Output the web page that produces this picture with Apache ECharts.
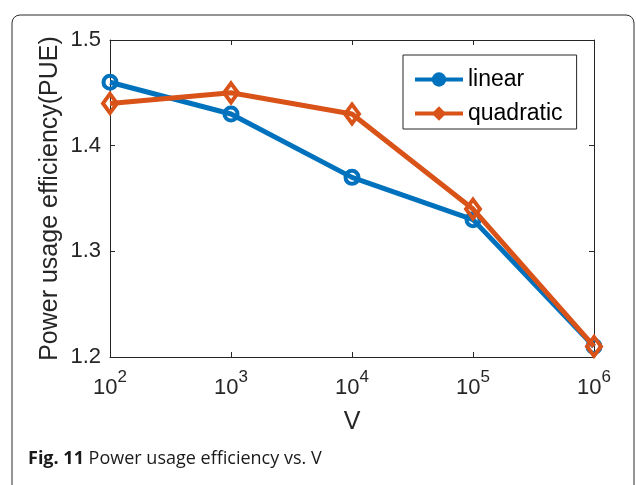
<!DOCTYPE html>
<html>
<head>
<meta charset="utf-8">
<script src="https://cdn.jsdelivr.net/npm/echarts@6/dist/echarts.min.js"></script>
<style>
  html, body { margin: 0; padding: 0; background: #fff; }
  #chart { width: 636px; height: 485px; }
</style>
</head>
<body>
<div id="chart"></div>
<script>
// V values (log scale) and PUE for the two pricing models
const vValues = [1e2, 1e3, 1e4, 1e5, 1e6];
const linearPUE = [1.46, 1.43, 1.37, 1.33, 1.21];
const quadraticPUE = [1.44, 1.45, 1.43, 1.34, 1.21];
const seriesNames = ['linear', 'quadratic'];
const yTicks = [1.2, 1.3, 1.4, 1.5];

const BLUE = '#0072BD';
const ORANGE = '#D95319';
const INK = '#262626';
const SANS = 'Liberation Sans, Arial, Helvetica, sans-serif';

const chart = echarts.init(document.getElementById('chart'));

function pairs(ys) { return vValues.map((v, i) => [v, ys[i]]); }

const mirrorAxis = {
  axisLine: { show: true, lineStyle: { color: INK, width: 1 } },
  axisTick: { show: true, inside: true, length: 5, lineStyle: { color: INK } },
  axisLabel: { show: false },
  splitLine: { show: false }
};

chart.setOption({
  animation: false,
  backgroundColor: '#fff',
  grid: { left: 110, right: 42, top: 40, bottom: 128 },
  xAxis: [
    {
      type: 'log', logBase: 10, min: 1e2, max: 1e6,
      name: 'V', nameLocation: 'middle', nameGap: 53, nameMoveOverlap: false,
      nameTextStyle: { fontFamily: SANS, fontSize: 25, color: INK },
      axisLine: { show: true, lineStyle: { color: INK, width: 1 } },
      axisTick: { show: true, inside: true, length: 5, lineStyle: { color: INK } },
      splitLine: { show: false },
      axisLabel: {
        margin: 12,
        formatter: function (v) {
          return '{base|10}{sup|' + Math.round(Math.log10(v)) + '}';
        },
        rich: {
          base: { fontFamily: SANS, fontSize: 22, lineHeight: 30, color: INK, verticalAlign: 'bottom' },
          sup: { fontFamily: SANS, fontSize: 17, lineHeight: 17, color: INK, verticalAlign: 'top' }
        }
      }
    },
    Object.assign({ type: 'log', logBase: 10, min: 1e2, max: 1e6, position: 'top' }, mirrorAxis)
  ],
  yAxis: [
    {
      type: 'value', min: 1.2, max: 1.5, interval: 0.1,
      name: 'Power usage efficiency(PUE)', nameLocation: 'middle', nameGap: 47, nameMoveOverlap: false,
      nameTextStyle: { fontFamily: SANS, fontSize: 25, color: INK },
      axisLine: { show: true, lineStyle: { color: INK, width: 1 } },
      axisTick: { show: true, inside: true, length: 5, lineStyle: { color: INK } },
      splitLine: { show: false },
      axisLabel: {
        margin: 9,
        fontFamily: SANS, fontSize: 22, color: INK,
        formatter: function (v) {
          const t = yTicks.find(y => Math.abs(y - v) < 1e-6);
          return t === undefined ? '' : t.toFixed(1);
        }
      }
    },
    Object.assign({ type: 'value', min: 1.2, max: 1.5, interval: 0.1, position: 'right' }, mirrorAxis)
  ],
  legend: {
    left: 403, top: 55,
    orient: 'vertical',
    padding: [13, 14, 4, 10],
    itemGap: 11,
    itemWidth: 48, itemHeight: 18,
    borderColor: INK, borderWidth: 1, borderRadius: 0,
    backgroundColor: '#fff',
    textStyle: { fontFamily: SANS, fontSize: 23, color: '#000' },
    data: [
      { name: seriesNames[0], itemStyle: { color: BLUE, borderColor: BLUE, borderWidth: 0 }, lineStyle: { color: BLUE, width: 4 } },
      { name: seriesNames[1], itemStyle: { color: ORANGE, borderColor: ORANGE, borderWidth: 0 }, lineStyle: { color: ORANGE, width: 4 } }
    ]
  },
  series: [
    {
      name: seriesNames[0], type: 'line', data: pairs(linearPUE),
      symbol: 'circle', symbolSize: 13,
      lineStyle: { color: BLUE, width: 5 },
      itemStyle: { color: 'rgba(255,255,255,0)', borderColor: BLUE, borderWidth: 4 },
      z: 2
    },
    {
      name: seriesNames[1], type: 'line', data: pairs(quadraticPUE),
      symbol: 'diamond', symbolSize: [14, 19],
      lineStyle: { color: ORANGE, width: 5 },
      itemStyle: { color: 'rgba(255,255,255,0)', borderColor: ORANGE, borderWidth: 4 },
      z: 3
    }
  ],
  graphic: [
    {
      type: 'rect', z: -1, silent: true,
      shape: { x: 12, y: 15, width: 622, height: 520, r: 8 },
      style: { fill: 'none', stroke: '#2b2b2b', lineWidth: 1 }
    },
    {
      type: 'text', left: 28, top: 450,
      style: {
        text: '{b|Fig. 11} Power usage efficiency vs. V',
        rich: {
          b: { fontFamily: 'Open Sans, sans-serif', fontWeight: 'bold', fontSize: 18, fill: '#1a1a1a' }
        },
        fontFamily: 'Open Sans, sans-serif', fontSize: 18, fill: '#1a1a1a'
      }
    }
  ]
});
</script>
</body>
</html>
